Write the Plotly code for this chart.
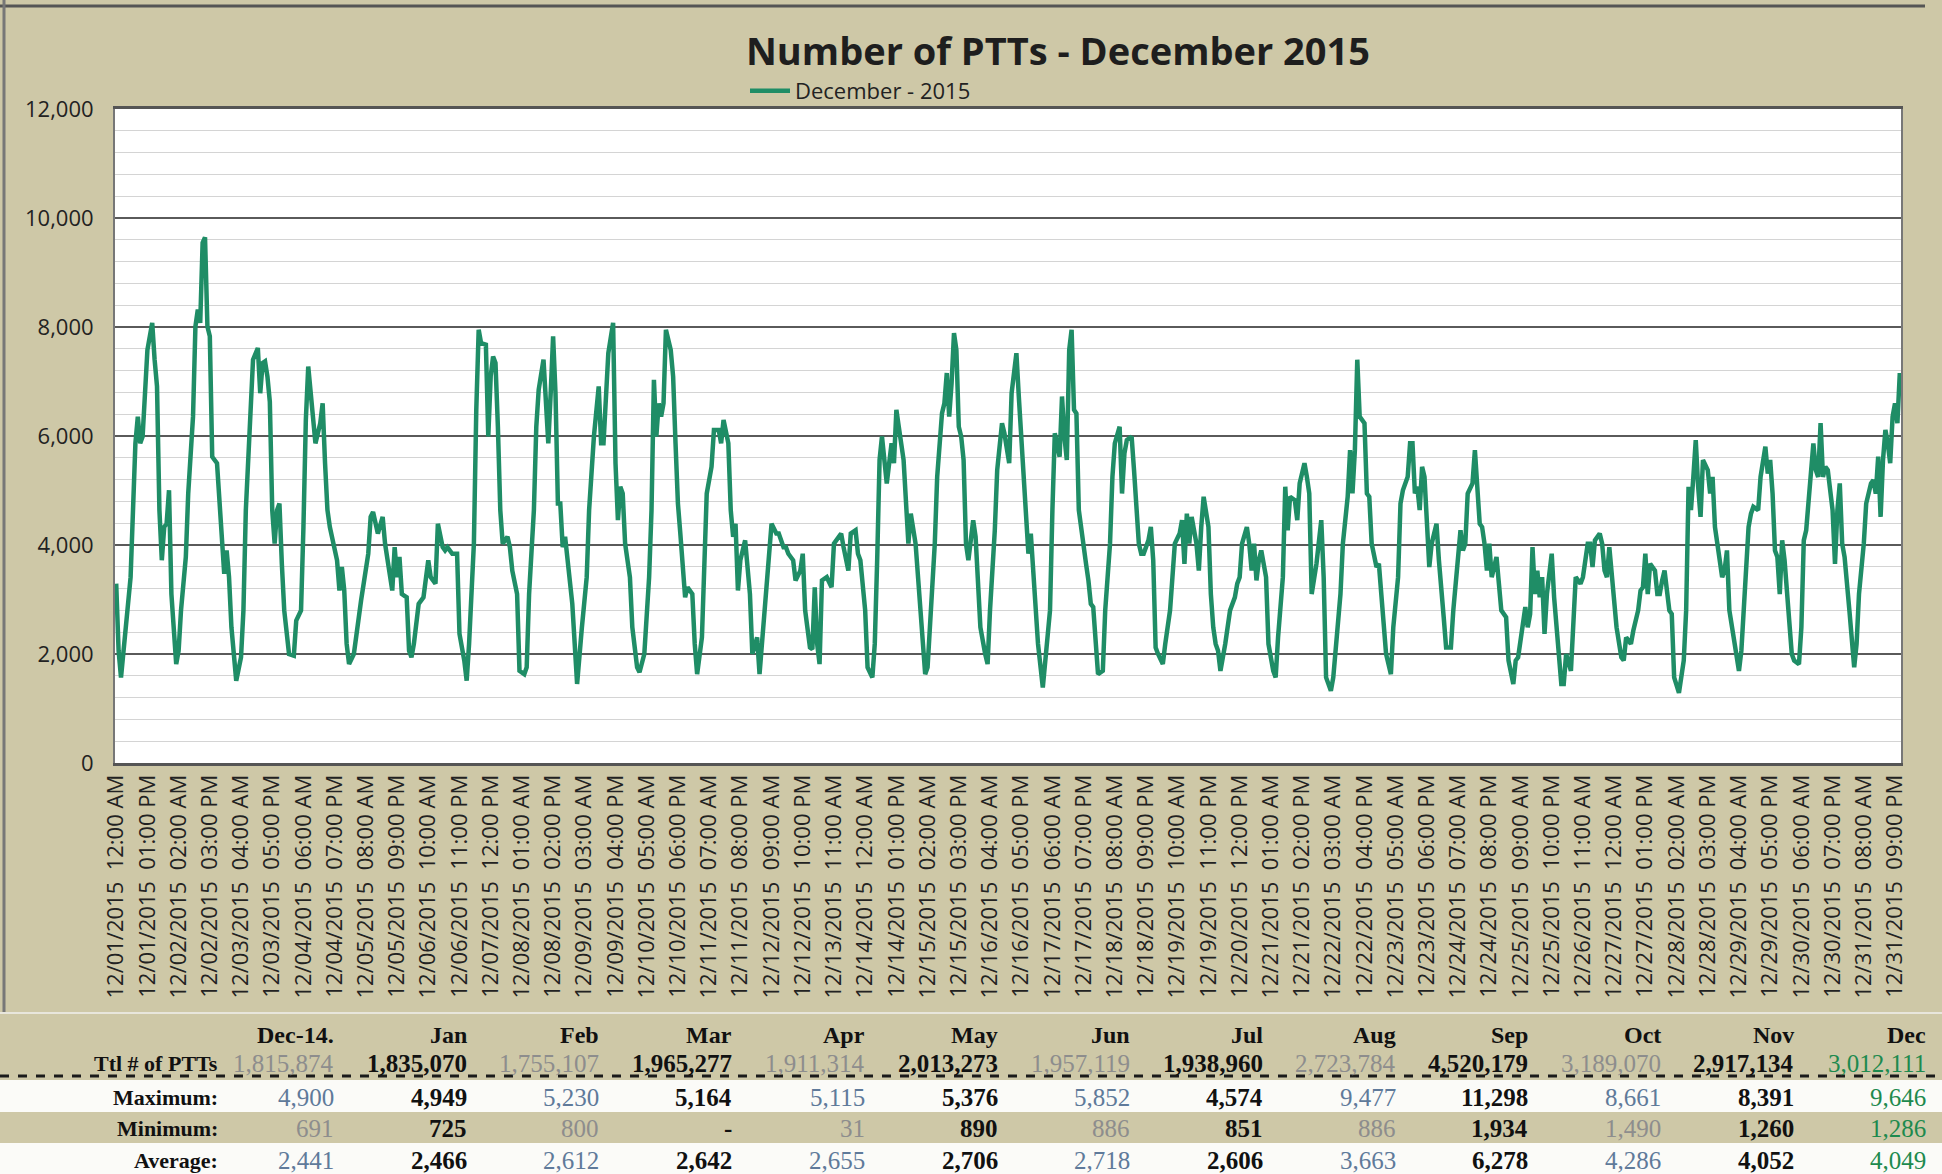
import datetime as dt
import plotly.graph_objects as go

# ---------------- data ----------------
START = dt.datetime(2015, 12, 1, 0, 0)

HOURS = [
    0, 1, 2, 6, 8, 9, 10, 11, 13, 15, 16, 17, 18, 19, 20, 21, 22, 23, 25, 26, 27, 29, 30, 32, 33, 34, 35, 36, 37, 38,
    39, 40, 42, 43, 44, 45, 46, 47, 48, 50, 52, 53, 54, 56, 57, 59, 60, 61, 62, 63, 64, 65, 66, 67, 68, 69, 70, 72, 74, 75,
    77, 78, 79, 80, 81, 82, 83, 85, 86, 87, 88, 89, 92, 93, 94, 95, 96, 97, 99, 102, 104, 105, 106, 107, 109, 111, 112, 113, 115, 116,
    117, 118, 119, 121, 122, 123,
    124, 126, 128, 130, 131, 133, 134, 136, 137, 138, 140, 142, 143, 145, 146, 147, 149, 150, 151, 152, 154, 155, 156, 157, 158, 159,
    160, 161, 163, 164, 165, 167, 168, 170, 171, 172, 174, 175, 176, 178, 179, 180, 181, 182, 183, 184, 185, 186, 187, 189, 190, 192,
    193, 194, 196, 197, 199, 200, 201, 202, 203, 205, 206, 207, 208, 209, 210, 211, 212, 214, 215, 217, 218, 220, 222, 223, 224, 225,
    226, 227, 228, 229, 231, 232, 233, 234, 235, 237, 238, 240, 241, 242, 244, 245, 246, 248, 249,
    251, 252, 253, 255, 256, 257, 258, 259, 260, 262, 264, 265, 267, 268, 269, 271, 272, 273, 275, 276, 278, 279, 280, 282, 283, 285,
    286, 287, 289, 290, 291, 292, 293, 294, 296, 298, 299, 301, 302, 303, 305, 306, 308, 309, 310, 312, 313, 315, 316, 317, 318, 319,
    321, 322, 323, 324, 325, 326, 327, 328, 330, 331, 333, 334, 335, 337, 338, 339, 341, 342, 344, 345, 346, 347, 348, 349, 350, 351,
    352, 353, 354, 355, 357, 358, 359, 360, 362, 363, 364, 366, 367, 369, 370,
    372, 373, 375, 376, 378, 379, 380, 381, 382, 384, 386, 387, 389, 390, 391, 393, 394, 395, 396, 397, 398, 399, 400, 401, 402, 404,
    405, 406, 407, 409, 411, 412, 414, 415, 416, 418, 419, 420, 421, 423, 424, 425, 426, 427, 428, 430, 431, 432, 433, 434, 436, 437,
    439, 440, 441, 443, 444, 445, 446, 447, 448, 450, 451, 452, 453, 455, 456, 457, 458, 459, 460, 462, 463, 464, 466, 467, 468, 469,
    471, 472, 473, 474, 475, 476, 477, 479, 480, 482, 483, 484, 486, 487, 488, 489, 491, 492, 493, 495, 496, 497, 498,
    500, 502, 503, 504, 506, 507, 509, 510, 511, 513, 514, 515, 516, 517, 518, 520, 521, 522, 523, 525, 526, 527, 528, 529, 531, 532,
    534, 535, 536, 538, 539, 540, 541, 542, 543, 544, 545, 546, 547, 548, 550, 551, 552, 553, 554, 556, 557, 559, 560, 561, 562, 563,
    565, 566, 567, 568, 569, 570, 571, 572, 573, 575, 576, 577, 579, 580, 582, 583, 584, 586, 587, 588, 589, 590, 591, 592, 593, 594,
    595, 596, 598, 599, 601, 602, 603, 604, 606, 607, 608, 610, 611, 613, 614, 615, 616, 618, 619, 620, 621, 622,
    624, 625, 627, 628, 629, 631, 632, 634, 635, 636, 637, 638, 639, 641, 642, 643, 644, 645, 647, 648, 649, 651, 653, 654, 655, 656,
    657, 658, 659, 660, 661, 663, 664, 665, 666, 668, 669, 670, 671, 672, 674, 676, 677, 679, 680, 681, 682, 684, 685, 687, 688, 689,
    690, 691, 692, 693, 694, 695, 697, 698, 699, 701, 702, 703, 704, 706, 707, 708, 709, 710, 711, 712, 713, 715, 716, 717, 718, 719,
    720, 722, 723, 724, 725, 726, 728, 729, 731, 732, 733, 734, 735, 736, 737, 738, 739, 740, 741, 742, 743,
]

PTTS = [
    3290, 2060, 1570, 3410, 5865, 6355, 5865, 5990, 7580, 8075, 7400, 6910, 4640, 3720, 4330, 4390, 5005, 3100, 1815, 2060, 2800, 3780, 4945, 6355, 8010, 8320, 8075, 9545, 9646, 8010,
    7830, 5620, 5500, 4885, 4025, 3470, 3900, 3410, 2490, 1510, 1940, 2800, 4640, 6600, 7400, 7615, 6785, 7340, 7370, 7090, 6630, 4640, 4025, 4640, 4760, 3655, 2800, 2000, 1970, 2615,
    2800, 4330, 6295, 7275, 6785, 6480, 5865, 6235, 6600, 5500, 4640, 4330, 3720, 3165, 3595, 3165, 2185, 1815, 2000, 2980, 3655, 3840, 4515, 4605, 4210, 4515, 4025, 3720, 3165, 3960,
    3410, 3780, 3100, 3040, 2060, 1940,
    2185, 2920, 3040, 3720, 3410, 3290, 4390, 3960, 3900, 3960, 3840, 3840, 2370, 1880, 1510, 2185, 4025, 6480, 7950, 7705, 7675, 5990, 7090, 7460, 7340, 6170,
    4640, 4025, 4150, 3960, 3530, 3100, 1690, 1630, 1755, 3100, 4640, 6170, 6850, 7400, 6480, 5865, 6785, 7830, 6785, 4760, 4760, 3960, 4150, 3410, 2920, 1450,
    1880, 2490, 3410, 4640, 5990, 6480, 6910, 5865, 5865, 7520, 7830, 8075, 5500, 4455, 5070, 4945, 4025, 3410, 2490, 1755, 1665, 2000, 3410, 4640, 7030, 5990,
    6600, 6355, 6600, 7950, 7580, 7090, 5865, 4760, 4210, 3040, 3225, 3100, 2185, 1630, 2305, 3410, 4945, 5435, 6110,
    6110, 5865, 6295, 5865, 4640, 4150, 4390, 3165, 3720, 4085, 3100, 2000, 2305, 1630, 2185, 3410, 3840, 4390, 4210, 4210, 3960, 3960, 3840, 3720, 3350, 3530,
    3840, 2800, 2120, 2090, 3225, 2185, 1815, 3350, 3410, 3225, 4025, 4150, 4210, 3960, 3530, 4210, 4270, 3840, 3720, 2800, 1755, 1570, 2185, 3720, 5560, 5990,
    5130, 5500, 5865, 5500, 6480, 6170, 5865, 5560, 4025, 4575, 4025, 3410, 2980, 1630, 1755, 2490, 4025, 5250, 6415, 6600, 7155, 6355, 6970, 7890, 7580, 6170,
    5990, 5560, 4025, 3720, 4455, 4150, 3410, 2490, 2000, 1815, 2800, 4270, 5375, 6235, 6050,
    5500, 6785, 7520, 6725, 5130, 4330, 3840, 4210, 3410, 2185, 1385, 1880, 2800, 4640, 6050, 5620, 6725, 5990, 5560, 7580, 7950, 6480, 6415, 4640, 4270, 3655,
    3350, 2920, 2860, 1630, 1690, 2800, 4025, 5250, 5865, 6170, 4945, 5680, 5925, 5990, 5375, 4515, 4025, 3840, 3840, 4085, 4330, 3720, 2120, 2000, 1815, 2185,
    2800, 3410, 4025, 4210, 4455, 3655, 4575, 4025, 4515, 4025, 3530, 4330, 4885, 4330, 3100, 2490, 2185, 2060, 1690, 2185, 2490, 2800, 3040, 3290, 3410, 4025,
    4330, 4025, 3530, 4025, 3350, 3720, 3900, 3410, 2185, 1690, 1570, 2305, 3410, 5070, 4270, 4885, 4820, 4455, 5130, 5500, 5250, 4945, 3100,
    3655, 4455, 3410, 1570, 1325, 1570, 2735, 3100, 4025, 4885, 5740, 4945, 5740, 7400, 6355, 6235, 4945, 4885, 4025, 3595, 3655, 3100, 2305, 2000, 1630, 2490,
    3410, 4760, 5005, 5250, 5865, 5865, 4945, 5070, 4640, 5435, 5250, 4455, 3595, 4025, 4390, 3720, 3040, 2675, 2120, 2120, 2800, 3720, 4270, 3900, 4025, 4945,
    5130, 5740, 5130, 4390, 4330, 4025, 3530, 4025, 3410, 3780, 3290, 2800, 2675, 1880, 1450, 1880, 1940, 2490, 2860, 2490, 2735, 3960, 3100, 3530, 3040, 3410,
    2370, 3100, 3840, 3040, 1880, 1450, 1450, 2000, 1690, 2490, 3410, 3290, 3410, 4025, 4025, 3595, 4085, 4210, 4025, 3530, 3410, 3960,
    2800, 2490, 1940, 1880, 2305, 2185, 2430, 2800, 3165, 3225, 3840, 3100, 3655, 3530, 3100, 3100, 3350, 3530, 2800, 2735, 1570, 1286, 1880, 2800, 5070, 4640,
    5250, 5925, 5070, 4515, 5560, 5375, 4945, 5250, 4330, 3655, 3410, 3530, 3900, 2800, 2185, 1690, 2060, 3410, 4330, 4575, 4700, 4640, 5250, 5805, 5310, 5560,
    4945, 3900, 3780, 3100, 4085, 3720, 2490, 2000, 1880, 1815, 2490, 4085, 4270, 5250, 5865, 5375, 5250, 6235, 5250, 5435, 5375, 4640, 3655, 4640, 5130, 4025,
    3780, 2800, 2185, 1755, 2185, 3100, 4025, 4760, 5130, 5190, 4945, 5620, 4515, 5560, 6110, 5865, 5500, 6355, 6600, 6235, 7155,
]

SERIES_NAME = "December - 2015"
TITLE = "Number of PTTs - December 2015"

Y_TICKS = [0, 2000, 4000, 6000, 8000, 10000, 12000]

# summary table
MONTHS = ["Dec-14.", "Jan", "Feb", "Mar", "Apr", "May", "Jun", "Jul", "Aug", "Sep", "Oct", "Nov", "Dec"]
TOTAL_PTTS = [1815874, 1835070, 1755107, 1965277, 1911314, 2013273, 1957119, 1938960, 2723784, 4520179, 3189070, 2917134, 3012111]
MAXIMUM = [4900, 4949, 5230, 5164, 5115, 5376, 5852, 4574, 9477, 11298, 8661, 8391, 9646]
MINIMUM = [691, 725, 800, None, 31, 890, 886, 851, 886, 1934, 1490, 1260, 1286]
AVERAGE = [2441, 2466, 2612, 2642, 2655, 2706, 2718, 2606, 3663, 6278, 4286, 4052, 4049]
ROW_LABELS = ["Ttl # of PTTs", "Maximum:", "Minimum:", "Average:"]

# ---------------- figure ----------------
W, H = 1942, 1174
PL, PR, PT, PB = 115, 1901, 109, 763  # plot area in pixels
BEIGE = "#cec8a7"
GREEN = "#1f8d66"
SANS = "Open Sans, DejaVu Sans, sans-serif"
SERIF = "Liberation Serif, DejaVu Serif, serif"


def px_x(x):
    return (x - PL) / (PR - PL)


def px_y(y):
    return (PB - y) / (PB - PT)


times = [START + dt.timedelta(hours=h) for h in HOURS]

fig = go.Figure()
fig.add_trace(go.Scatter(
    x=times, y=PTTS, mode="lines", name=SERIES_NAME,
    line=dict(color=GREEN, width=4.5),
))

fig.update_layout(
    width=W, height=H,
    margin=dict(l=PL, r=W - PR, t=PT, b=H - PB, pad=0, autoexpand=False),
    paper_bgcolor=BEIGE, plot_bgcolor="white",
    title=dict(text=f"<b>{TITLE}</b>", x=1058 / W, xanchor="center", y=1 - 52 / H, yanchor="middle",
               font=dict(family=SANS, size=38, color="#1e1e1e")),
    showlegend=True,
    legend=dict(x=px_x(745), xanchor="left", y=px_y(91), yanchor="middle", orientation="h",
                bgcolor="rgba(0,0,0,0)", font=dict(family=SANS, size=22, color="#222"),
                itemwidth=40, tracegroupgap=0),
    font=dict(family=SANS, color="#222"),
)

fig.update_xaxes(
    type="date", automargin=False,
    range=[START - dt.timedelta(minutes=30), START + dt.timedelta(hours=743, minutes=30)],
    tickmode="linear", tick0=START, dtick=13 * 3600 * 1000,
    tickformat="%m/%d/%Y\u00a0\u00a0%I:%M %p", tickangle=-90,
    tickfont=dict(family=SANS, size=22, color="#222"),
    showgrid=False, zeroline=False,
    showline=True, linecolor="#555", linewidth=3, mirror=True,
    ticks="", fixedrange=True,
)
fig.update_yaxes(
    automargin=False,
    range=[0, 12000], tickmode="array", tickvals=Y_TICKS, tickformat=",",
    tickfont=dict(family=SANS, size=22, color="#222"),
    showgrid=True, gridcolor="#5a5a5a", gridwidth=2,
    minor=dict(dtick=400, showgrid=True, gridcolor="#d4d4d4", gridwidth=1),
    zeroline=False, showline=True, linecolor="#777", linewidth=2, mirror=True,
    ticks="", ticklabelstandoff=15,
)

shapes = []
# outer frame lines
shapes.append(dict(type="line", xref="paper", yref="paper", x0=px_x(0), x1=px_x(1925), y0=px_y(6), y1=px_y(6),
                   line=dict(color="#555", width=3)))
shapes.append(dict(type="line", xref="paper", yref="paper", x0=px_x(4), x1=px_x(4), y0=px_y(0), y1=px_y(1013),
                   line=dict(color="#777", width=3)))
shapes.append(dict(type="line", xref="paper", yref="paper", x0=px_x(0), x1=px_x(W), y0=px_y(1013), y1=px_y(1013),
                   line=dict(color="#e8e6dc", width=2)))
# white row bands of the table
for y0, y1 in [(1080, 1112), (1143, 1174)]:
    shapes.append(dict(type="rect", xref="paper", yref="paper", x0=px_x(0), x1=px_x(W), y0=px_y(y0), y1=px_y(y1),
                       fillcolor="#fbfbf8", line=dict(width=0), layer="below"))
shapes.append(dict(type="line", xref="paper", yref="paper", x0=px_x(0), x1=px_x(W), y0=px_y(1076), y1=px_y(1076),
                   line=dict(color="#1a1a1a", width=3, dash="dash")))
fig.update_layout(shapes=shapes)

# table text
annotations = []
COL_RIGHT0, COL_STEP = 336, 132.7
ROW_Y = {"head": 1035, "ttl": 1063, "max": 1097, "min": 1128, "avg": 1160}
LABEL_RIGHT = 220


def add_text(text, xr, yc, color="#111", bold=True, size=19):
    annotations.append(dict(
        text=f"<b>{text}</b>" if bold else text, xref="paper", yref="paper",
        x=px_x(xr), y=px_y(yc), xanchor="right", yanchor="middle", showarrow=False,
        font=dict(family=SERIF, size=size, color=color),
    ))


for lab, key in zip(ROW_LABELS, ["ttl", "max", "min", "avg"]):
    add_text(lab, LABEL_RIGHT, ROW_Y[key], size=22)

for i, m in enumerate(MONTHS):
    xr = COL_RIGHT0 + i * COL_STEP
    add_text(m, xr, ROW_Y["head"], size=24)
    last = i == len(MONTHS) - 1
    odd = i % 2 == 1
    for key, vals in [("ttl", TOTAL_PTTS), ("max", MAXIMUM), ("min", MINIMUM), ("avg", AVERAGE)]:
        v = vals[i]
        s = "-" if v is None else f"{v:,}"
        if last:
            col, b = "#1d8a4e", False
        elif odd:
            col, b = "#111", True
        else:
            col = "#8d8d8d" if key in ("ttl", "min") else "#5f7a9a"
            b = False
        add_text(s, xr, ROW_Y[key], color=col, bold=b, size=25)

fig.update_layout(annotations=annotations)

fig.write_html(
    "out.html",
    config={"displayModeBar": False},
    post_script="document.body.style.margin='0px';document.body.style.overflow='hidden';",
)
